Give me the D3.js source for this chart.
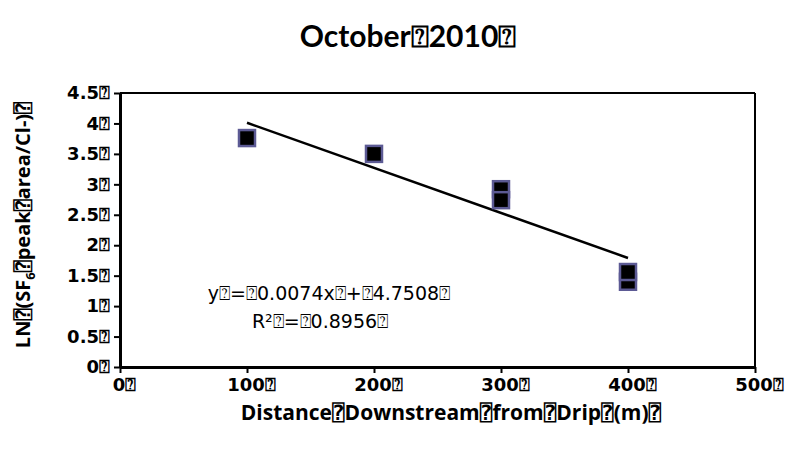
<!DOCTYPE html>
<html><head><meta charset="utf-8">
<script src="https://cdn.jsdelivr.net/npm/d3@7"></script>
<style>
body{margin:0;background:#fff;}
text{font-family:"Open Sans","DejaVu Sans Mono",sans-serif;}
</style></head><body>
<svg id="c" width="785" height="449"></svg>
<script>
const B = "\u2370";
const distances = [100, 200, 300, 300, 400, 400];
const lnValues = [3.76, 3.50, 2.92, 2.74, 1.40, 1.56];
const xTicks = [0, 100, 200, 300, 400, 500];
const yTicks = [0, 0.5, 1, 1.5, 2, 2.5, 3, 3.5, 4, 4.5];
const trendX = [100, 400];
const slope = -0.0074, intercept = 4.7508;
const title = "October" + B + "2010" + B;
const xTitle = "Distance" + B + "Downstream" + B + "from" + B + "Drip" + B + "(m)" + B;
const eqLine1 = "y" + B + "=" + B + "0.0074x" + B + "+" + B + "4.7508" + B;
const eqLine2 = "R\u00B2" + B + "=" + B + "0.8956" + B;

const svg = d3.select("#c");
const L = 120, R = 755, T = 93, Bm = 367;
const x = d3.scaleLinear().domain([0, 500]).range([L, R]);
const y = d3.scaleLinear().domain([0, 4.5]).range([Bm, T]);
const tickFont = "'DejaVu Sans',sans-serif";

svg.append("line").attr("x1", L).attr("x2", R).attr("y1", T).attr("y2", T).attr("stroke", "#000").attr("stroke-width", 2);
svg.append("line").attr("x1", R).attr("x2", R).attr("y1", T).attr("y2", Bm).attr("stroke", "#000").attr("stroke-width", 2);

const xa = svg.append("g").attr("transform", `translate(0,${Bm})`)
  .call(d3.axisBottom(x).tickValues(xTicks).tickSize(6).tickSizeOuter(0).tickFormat(d => d + B));
xa.select(".domain").attr("stroke-width", 3);
xa.selectAll(".tick line").attr("stroke-width", 2);
xa.selectAll("text").style("font-family", tickFont).attr("font-size", 18).attr("font-weight", "bold").attr("dy", "0.71em").attr("y", 11).attr("dx", 4);

const ya = svg.append("g").attr("transform", `translate(${L},0)`)
  .call(d3.axisLeft(y).tickValues(yTicks).tickSize(6).tickSizeOuter(0).tickFormat(d => d + B));
ya.select(".domain").attr("stroke-width", 3);
ya.selectAll(".tick line").attr("stroke-width", 2);
ya.selectAll("text").style("font-family", tickFont).attr("font-size", 18).attr("font-weight", "bold").attr("x", -10);

svg.append("line")
  .attr("x1", x(trendX[0])).attr("y1", y(slope * trendX[0] + intercept))
  .attr("x2", x(trendX[1])).attr("y2", y(slope * trendX[1] + intercept))
  .attr("stroke", "#000").attr("stroke-width", 2.5);

const s = 16;
svg.selectAll("rect.pt").data(distances.map((d, i) => [d, lnValues[i]])).join("rect")
  .attr("class", "pt")
  .attr("x", d => x(d[0]) - s / 2).attr("y", d => y(d[1]) - s / 2)
  .attr("width", s).attr("height", s)
  .attr("fill", "#000").attr("stroke", "#5c5a94").attr("stroke-width", 2.5);

svg.append("text").attr("x", 329).attr("y", 300).attr("text-anchor", "middle").style("font-family", tickFont).attr("font-size", 19).text(eqLine1);
svg.append("text").attr("x", 320).attr("y", 328).attr("text-anchor", "middle").style("font-family", tickFont).attr("font-size", 19).text(eqLine2);

svg.append("text").attr("x", 408).attr("y", 47).attr("text-anchor", "middle").style("font-family", "Lato,sans-serif").attr("font-size", 30).attr("font-weight", "bold").text(title);
svg.append("text").attr("x", 451).attr("y", 420).attr("text-anchor", "middle").attr("font-size", 21).attr("font-weight", "bold").text(xTitle);
const yt = svg.append("text").attr("transform", "translate(30,225) rotate(-90)").attr("text-anchor", "middle").attr("font-size", 20).attr("font-weight", "bold");
yt.append("tspan").text("LN" + B + "(SF");
yt.append("tspan").attr("font-size", 13).attr("dy", 5).text("6");
yt.append("tspan").attr("dy", -5).text(B + "peak" + B + "area/Cl-)" + B);
</script>
</body></html>
